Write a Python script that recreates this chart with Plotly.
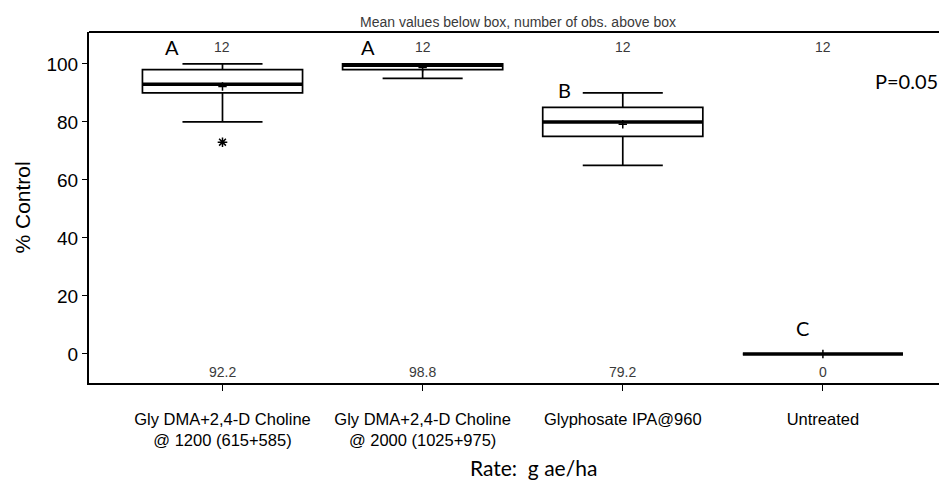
import plotly.graph_objects as go

categories = ["Gly DMA+2,4-D Choline<br>@ 1200 (615+585)",
              "Gly DMA+2,4-D Choline<br>@ 2000 (1025+975)",
              "Glyphosate IPA@960",
              "Untreated"]
q1 = [90, 98, 75, 0]
median = [93, 99.5, 80, 0]
q3 = [98, 100, 85, 0]
lowerfence = [80, 95, 65, 0]
upperfence = [100, 100, 90, 0]
means = [92.2, 98.8, 79.2, 0]
n_obs = [12, 12, 12, 12]
letters = ["A", "A", "B", "C"]
letter_y = [106, 106, 91, 9]
letter_dx = [-0.25, -0.275, -0.29, -0.1]
outlier_x = [0]
outlier_y = [73]

idx = list(range(len(categories)))
BOXW = 0.8

fig = go.Figure()
fig.add_trace(go.Box(
    x=idx, q1=q1, median=median, q3=q3,
    lowerfence=lowerfence, upperfence=upperfence,
    width=BOXW, whiskerwidth=0.5,
    fillcolor="rgba(0,0,0,0)",
    line=dict(color="black", width=1.7),
    boxpoints=False, showlegend=False, hoverinfo="skip"))

# thick median lines
mx, my = [], []
for i, m in zip(idx, median):
    mx += [i - BOXW / 2, i + BOXW / 2, None]
    my += [m, m, None]
fig.add_trace(go.Scatter(x=mx, y=my, mode="lines",
                         line=dict(color="black", width=3.5),
                         showlegend=False, hoverinfo="skip"))

# mean markers
fig.add_trace(go.Scatter(x=idx, y=means, mode="markers",
                         marker=dict(symbol="cross-thin-open", size=6, color="black",
                                     line=dict(color="black", width=1.5)),
                         showlegend=False, hoverinfo="skip"))

# outlier
fig.add_trace(go.Scatter(x=outlier_x, y=outlier_y, mode="markers",
                         marker=dict(symbol="asterisk-open", size=8, color="black",
                                     line=dict(color="black", width=1.5)),
                         showlegend=False, hoverinfo="skip"))

NUMFONT = dict(family="Liberation Sans", size=14, color="#3a3a3a")
ann = []
for i in idx:
    ann.append(dict(x=i, y=106, text=str(n_obs[i]), showarrow=False, font=NUMFONT))
    ann.append(dict(x=i, y=-6.3, text=str(means[i]) if means[i] != 0 else "0",
                    showarrow=False, font=NUMFONT))
    ann.append(dict(x=i + letter_dx[i], y=letter_y[i], text=letters[i], showarrow=False,
                    font=dict(family="Lato", size=20, color="black")))
ann.append(dict(x=3.42, y=94, text="P=0.05", showarrow=False,
                font=dict(family="Lato", size=20, color="black")))
ann.append(dict(x=0.5, xref="paper", y=1.0, yref="paper", yanchor="middle", yshift=10,
                text="Mean values below box, number of obs. above box", showarrow=False,
                font=dict(family="Liberation Sans", size=14, color="#3a3a3a")))
ann.append(dict(x=0, xref="paper", y=0.5, yref="paper", xanchor="center", yanchor="middle",
                xshift=-67, textangle=-90, text="% Control", showarrow=False,
                font=dict(family="Liberation Sans", size=21, color="black")))
ann.append(dict(x=0.5175, xref="paper", y=0, yref="paper", xanchor="center", yanchor="middle",
                yshift=-84, text="Rate:  g ae/ha", showarrow=False,
                font=dict(family="Lato", size=21, color="black")))

fig.update_layout(
    width=939, height=476,
    margin=dict(l=81, r=0, t=24, b=101),
    paper_bgcolor="white", plot_bgcolor="white",
    annotations=ann,
    shapes=[dict(type="line", xref="paper", yref="paper", x0=0, x1=1, y0=1, y1=1,
                 line=dict(color="black", width=2))],
    xaxis=dict(range=[-0.667, 3.62], tickmode="array", tickvals=idx, ticktext=categories,
               showline=True, linecolor="black", linewidth=2, ticks="outside",
               ticklen=6, tickcolor="black", showgrid=False, zeroline=False,
               ticklabelstandoff=14,
               tickfont=dict(family="Liberation Sans", size=16.5, color="black")),
    yaxis=dict(range=[-10, 111], tickvals=[0, 20, 40, 60, 80, 100],
               showline=True, linecolor="black", linewidth=2, ticks="outside",
               ticklen=5, tickcolor="black", showgrid=False, zeroline=False,
               tickfont=dict(family="Liberation Sans", size=19, color="black")),
)

fig.write_html("out.html")
